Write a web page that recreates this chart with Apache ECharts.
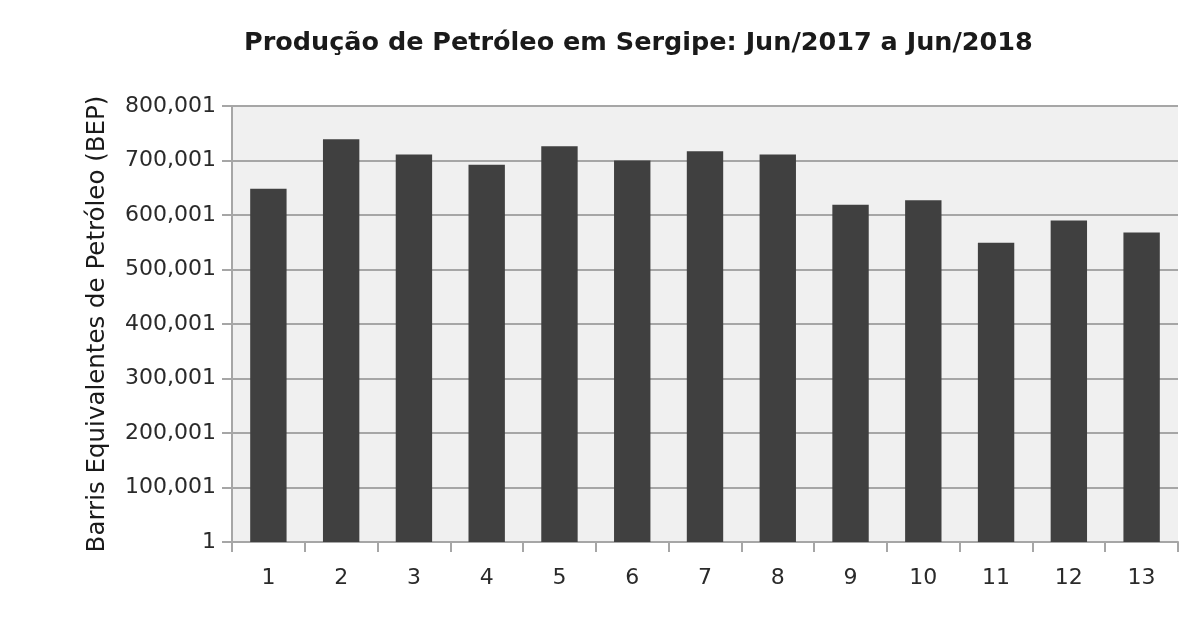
<!DOCTYPE html>
<html>
<head>
<meta charset="utf-8">
<script src="https://cdn.jsdelivr.net/npm/echarts@6/dist/echarts.min.js"></script>
<style>html,body{margin:0;padding:0;background:#fff;}#c{width:1200px;height:618px;}</style>
</head>
<body>
<div id="c"></div>
<script>
const titleText = 'Produção de Petróleo em Sergipe: Jun/2017 a Jun/2018';
const yAxisName = 'Barris Equivalentes de Petróleo (BEP)';
const categories = ['1','2','3','4','5','6','7','8','9','10','11','12','13'];
const production = [648000, 739000, 711000, 692000, 726000, 700000, 717000, 711000, 619000, 627000, 549000, 590000, 568000];
const yTickOffset = 1; // tick labels read 1, 100,001, ... 800,001

const chart = echarts.init(document.getElementById('c'), null, {renderer: 'canvas'});
const font = 'DejaVu Sans';
chart.setOption({
  backgroundColor: '#ffffff',
  animation: false,
  title: {
    text: titleText,
    left: 239,
    top: 25,
    textStyle: {fontFamily: font, fontWeight: 'bold', fontSize: 25.5, color: '#1a1a1a'}
  },
  grid: {
    left: 232, right: 22, top: 106, bottom: 76,
    show: true, backgroundColor: '#f0f0f0', borderWidth: 0
  },
  xAxis: {
    type: 'category',
    data: categories,
    axisLine: {show: true, lineStyle: {color: '#a6a6a6', width: 2}},
    axisTick: {show: true, length: 10, alignWithLabel: false, lineStyle: {color: '#a6a6a6', width: 2}},
    axisLabel: {fontFamily: font, fontSize: 22, color: '#2a2a2a', margin: 25}
  },
  yAxis: {
    type: 'value',
    min: 0,
    max: 800000,
    interval: 100000,
    name: yAxisName,
    nameLocation: 'middle',
    nameGap: 122,
    nameTextStyle: {fontFamily: font, fontSize: 24.5, color: '#1a1a1a'},
    axisLine: {show: true, lineStyle: {color: '#a6a6a6', width: 2}},
    axisTick: {show: true, length: 10, lineStyle: {color: '#a6a6a6', width: 2}},
    splitLine: {show: true, lineStyle: {color: '#a6a6a6', width: 2}},
    axisLabel: {
      fontFamily: font, fontSize: 22, color: '#2a2a2a', margin: 16,
      formatter: v => (v + yTickOffset).toLocaleString('en-US')
    }
  },
  series: [{
    type: 'bar',
    data: production,
    barWidth: '50%',
    itemStyle: {color: '#404040'}
  }]
});
</script>
</body>
</html>
